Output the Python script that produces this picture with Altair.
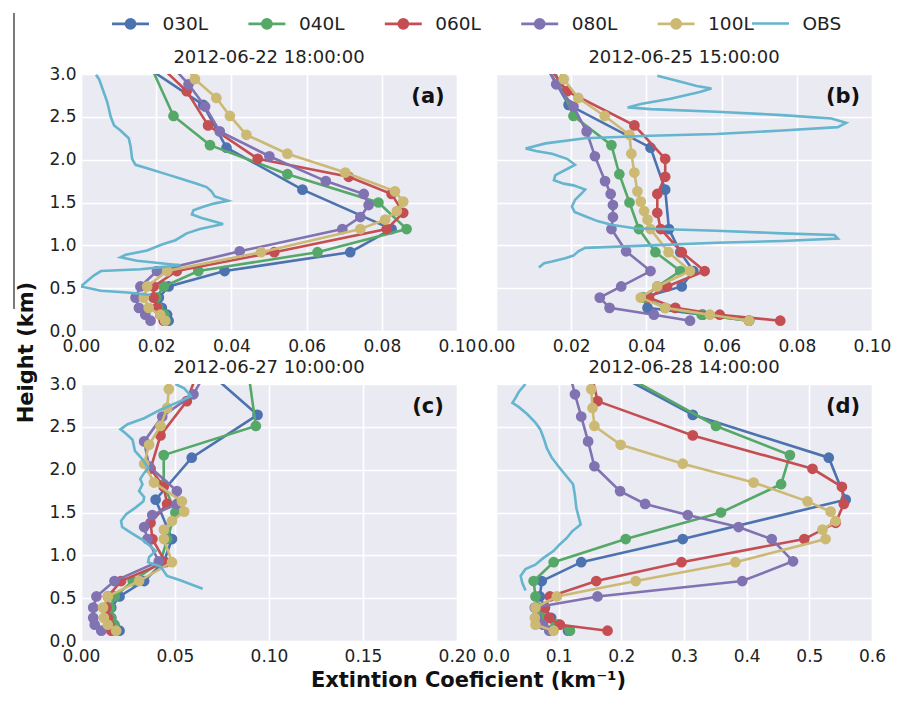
import altair as alt
import pandas as pd

# ---------------- data ----------------
MODELS = ["030L", "040L", "060L", "080L", "100L"]
MODEL_COLORS = ["#4C72B0", "#55A868", "#C44E52", "#8172B2", "#CCB974"]
OBS_NAME = ["OBS"]
OBS_COLOR = ["#64B5CD"]

PANELS = ["a", "b", "c", "d"]
TITLES = ["2012-06-22 18:00:00", "2012-06-25 15:00:00", "2012-06-27 10:00:00", "2012-06-28 14:00:00"]
XMAX = [0.10, 0.10, 0.20, 0.60]
XTICKS_AB = [0.00, 0.02, 0.04, 0.06, 0.08, 0.10]
XTICKS_C = [0.00, 0.05, 0.10, 0.15, 0.20]
XTICKS_D = [0.0, 0.1, 0.2, 0.3, 0.4, 0.5, 0.6]
YTICKS = [0.0, 0.5, 1.0, 1.5, 2.0, 2.5, 3.0]

# model level heights (km)
lev_030L = [0.12, 0.19, 0.27, 0.39, 0.52, 0.70, 0.92, 1.19, 1.65, 2.14, 2.64, 3.20]
lev_040L = [0.12, 0.19, 0.27, 0.39, 0.52, 0.70, 0.92, 1.19, 1.50, 1.83, 2.17, 2.51, 3.30]
lev_060L = [0.12, 0.19, 0.27, 0.39, 0.52, 0.70, 0.92, 1.19, 1.38, 1.60, 1.80, 2.01, 2.40, 2.80, 3.20]
lev_080L = [0.12, 0.19, 0.27, 0.39, 0.52, 0.70, 0.93, 1.19, 1.33, 1.47, 1.60, 1.75, 2.04, 2.33, 2.62, 2.88, 3.20]
lev_100L = [0.12, 0.19, 0.27, 0.39, 0.52, 0.70, 0.92, 1.19, 1.30, 1.40, 1.51, 1.63, 1.85, 2.07, 2.29, 2.51, 2.72, 2.94, 3.20]

# panel (a)
a_030L = [0.0233, 0.0229, 0.0215, 0.0207, 0.0233, 0.0382, 0.0716, 0.0826, 0.0589, 0.0387, 0.0325, 0.0133]
a_040L = [0.0225, 0.0222, 0.0205, 0.0200, 0.0220, 0.0312, 0.0629, 0.0866, 0.0791, 0.0549, 0.0343, 0.0246, 0.0164]
a_060L = [0.0220, 0.0211, 0.0202, 0.0193, 0.0193, 0.0255, 0.0514, 0.0813, 0.0857, 0.0826, 0.0712, 0.0470, 0.0338, 0.0281, 0.0185]
a_080L = [0.0185, 0.0171, 0.0154, 0.0145, 0.0158, 0.0202, 0.0422, 0.0695, 0.0743, 0.0765, 0.0752, 0.0651, 0.0501, 0.0369, 0.0330, 0.0286, 0.0220]
a_100L = [0.0224, 0.0211, 0.0180, 0.0167, 0.0176, 0.0229, 0.0479, 0.0743, 0.0809, 0.0840, 0.0857, 0.0835, 0.0703, 0.0549, 0.0440, 0.0396, 0.0360, 0.0303, 0.0260]
# panel (b)
b_030L = [0.0673, 0.0550, 0.0403, 0.0390, 0.0494, 0.0525, 0.0490, 0.0460, 0.0450, 0.0411, 0.0193, 0.0120]
b_040L = [0.0673, 0.0547, 0.0450, 0.0394, 0.0429, 0.0490, 0.0424, 0.0380, 0.0355, 0.0328, 0.0307, 0.0206, 0.0130]
b_060L = [0.0756, 0.0595, 0.0477, 0.0407, 0.0455, 0.0555, 0.0494, 0.0438, 0.0429, 0.0429, 0.0450, 0.0450, 0.0368, 0.0189, 0.0120]
b_080L = [0.0516, 0.0420, 0.0302, 0.0276, 0.0333, 0.0411, 0.0346, 0.0307, 0.0311, 0.0311, 0.0305, 0.0290, 0.0263, 0.0241, 0.0206, 0.0160, 0.0120]
b_100L = [0.0673, 0.0569, 0.0450, 0.0385, 0.0429, 0.0516, 0.0459, 0.0411, 0.0403, 0.0394, 0.0385, 0.0376, 0.0368, 0.0360, 0.0355, 0.0289, 0.0219, 0.0180, 0.0150]
# panel (c)
c_030L = [0.0205, 0.0178, 0.0161, 0.0161, 0.0205, 0.0336, 0.0440, 0.0484, 0.0397, 0.0589, 0.0939, 0.0647]
c_040L = [0.0187, 0.0175, 0.0160, 0.0155, 0.0180, 0.0275, 0.0423, 0.0458, 0.0502, 0.0440, 0.0440, 0.0930, 0.0880]
c_060L = [0.0161, 0.0150, 0.0143, 0.0135, 0.0143, 0.0213, 0.0449, 0.0380, 0.0370, 0.0458, 0.0440, 0.0370, 0.0423, 0.0563, 0.0630]
c_080L = [0.0108, 0.0073, 0.0065, 0.0065, 0.0082, 0.0178, 0.0414, 0.0353, 0.0336, 0.0379, 0.0510, 0.0510, 0.0362, 0.0336, 0.0432, 0.0598, 0.0680]
c_100L = [0.0187, 0.0143, 0.0122, 0.0117, 0.0143, 0.0309, 0.0484, 0.0441, 0.0441, 0.0484, 0.0549, 0.0537, 0.0388, 0.0336, 0.0362, 0.0423, 0.0458, 0.0467, 0.0480]
# panel (d)
d_030L = [0.115, 0.100, 0.088, 0.078, 0.070, 0.073, 0.136, 0.298, 0.558, 0.531, 0.314, 0.171]
d_040L = [0.118, 0.095, 0.075, 0.068, 0.063, 0.060, 0.092, 0.207, 0.359, 0.455, 0.469, 0.351, 0.156]
d_060L = [0.178, 0.102, 0.085, 0.078, 0.086, 0.160, 0.296, 0.492, 0.542, 0.555, 0.552, 0.505, 0.314, 0.162, 0.150]
d_080L = [0.085, 0.075, 0.065, 0.062, 0.162, 0.393, 0.474, 0.440, 0.387, 0.306, 0.238, 0.198, 0.157, 0.147, 0.136, 0.126, 0.115]
d_100L = [0.092, 0.063, 0.062, 0.063, 0.097, 0.223, 0.382, 0.526, 0.521, 0.542, 0.534, 0.497, 0.411, 0.298, 0.199, 0.157, 0.154, 0.152, 0.150]

# observations (height km, extinction)
obs_a_h = [2.99, 2.94, 2.83, 2.67, 2.50, 2.40, 2.34, 2.25, 2.15, 2.01, 1.94, 1.90, 1.84, 1.78, 1.72, 1.68, 1.63, 1.57, 1.52, 1.49,
           1.45, 1.41, 1.36, 1.32, 1.25, 1.22, 1.19, 1.14, 1.06, 1.01, 0.94, 0.89, 0.86, 0.82, 0.78, 0.77, 0.74, 0.72, 0.70, 0.65,
           0.59, 0.52, 0.47, 0.45, 0.42]
obs_a_v = [0.0040, 0.0048, 0.0057, 0.0070, 0.0079, 0.0088, 0.0105, 0.0127, 0.0132, 0.0136, 0.0145, 0.0176, 0.0220, 0.0264, 0.0308,
           0.0334, 0.0347, 0.0356, 0.0391, 0.0356, 0.0325, 0.0299, 0.0295, 0.0321, 0.0378, 0.0347, 0.0316, 0.0281, 0.0251, 0.0215,
           0.0176, 0.0119, 0.0105, 0.0149, 0.0237, 0.0264, 0.0202, 0.0158, 0.0053, 0.0035, 0.0018, 0.0000, 0.0053, 0.0123, 0.0185]
obs_b_h = [2.98, 2.92, 2.86, 2.83, 2.79, 2.71, 2.65, 2.61, 2.59, 2.56, 2.52, 2.48, 2.43, 2.38, 2.34, 2.30, 2.28, 2.25, 2.19, 2.13,
           2.10, 2.07, 2.01, 1.94, 1.90, 1.82, 1.76, 1.72, 1.70, 1.65, 1.59, 1.53, 1.45, 1.39, 1.34, 1.28, 1.24, 1.20, 1.17, 1.14,
           1.12, 1.08, 1.05, 1.03, 1.00, 0.97, 0.93, 0.88, 0.85, 0.81, 0.79, 0.74]
obs_b_v = [0.0429, 0.0481, 0.0534, 0.0573, 0.0542, 0.0464, 0.0385, 0.0350, 0.0411, 0.0586, 0.0761, 0.0892, 0.0931, 0.0909, 0.0761,
           0.0586, 0.0411, 0.0237, 0.0132, 0.0079, 0.0106, 0.0149, 0.0189, 0.0210, 0.0193, 0.0158, 0.0154, 0.0180, 0.0206, 0.0237,
           0.0224, 0.0210, 0.0202, 0.0209, 0.0237, 0.0272, 0.0307, 0.0368, 0.0586, 0.0761, 0.0900, 0.0909, 0.0761, 0.0586, 0.0411,
           0.0237, 0.0219, 0.0206, 0.0184, 0.0149, 0.0128, 0.0114]
obs_c_h = [3.00, 2.95, 2.86, 2.80, 2.70, 2.60, 2.53, 2.47, 2.42, 2.35, 2.22, 2.12, 2.02, 1.95, 1.89, 1.83, 1.75, 1.68, 1.63, 1.56,
           1.48, 1.40, 1.33, 1.26, 1.17, 1.05, 0.98, 0.92, 0.87, 0.76, 0.71, 0.65, 0.61]
obs_c_v = [0.0502, 0.0549, 0.0584, 0.0528, 0.0423, 0.0336, 0.0248, 0.0210, 0.0240, 0.0274, 0.0287, 0.0327, 0.0357, 0.0332, 0.0315,
           0.0327, 0.0309, 0.0336, 0.0332, 0.0292, 0.0240, 0.0213, 0.0219, 0.0269, 0.0336, 0.0397, 0.0362, 0.0357, 0.0423, 0.0458,
           0.0528, 0.0598, 0.0647]
obs_d_h = [3.00, 2.91, 2.84, 2.78, 2.73, 2.65, 2.55, 2.47, 2.37, 2.25, 2.14, 2.04, 1.90, 1.83, 1.71, 1.55, 1.36, 1.28, 1.20, 1.13,
           1.05, 0.97, 0.89, 0.84, 0.76, 0.68, 0.59]
obs_d_v = [0.047, 0.0366, 0.0314, 0.0262, 0.0366, 0.0497, 0.0628, 0.0707, 0.0759, 0.0812, 0.0890, 0.0995, 0.1152, 0.1230, 0.1257,
           0.1283, 0.1351, 0.1215, 0.1126, 0.1021, 0.0916, 0.0759, 0.0628, 0.0471, 0.0393, 0.0419, 0.0471]

LEVELS = {"030L": lev_030L, "040L": lev_040L, "060L": lev_060L, "080L": lev_080L, "100L": lev_100L}
VALUES = {
    "a": {"030L": a_030L, "040L": a_040L, "060L": a_060L, "080L": a_080L, "100L": a_100L},
    "b": {"030L": b_030L, "040L": b_040L, "060L": b_060L, "080L": b_080L, "100L": b_100L},
    "c": {"030L": c_030L, "040L": c_040L, "060L": c_060L, "080L": c_080L, "100L": c_100L},
    "d": {"030L": d_030L, "040L": d_040L, "060L": d_060L, "080L": d_080L, "100L": d_100L},
}
OBS = {"a": (obs_a_h, obs_a_v), "b": (obs_b_h, obs_b_v), "c": (obs_c_h, obs_c_v), "d": (obs_d_h, obs_d_v)}

rows = []
for p in PANELS:
    for s in MODELS:
        for i, (h, v) in enumerate(zip(LEVELS[s], VALUES[p][s])):
            rows.append({"panel": p, "series": s, "height": h, "value": v, "i": i})
    oh, ov = OBS[p]
    for i, (h, v) in enumerate(zip(oh, ov)):
        rows.append({"panel": p, "series": "OBS", "height": h, "value": v, "i": i})
df = pd.DataFrame(rows)

# ---------------- styling ----------------
FONT = "DejaVu Sans"
W, H = 376, 257
LINE_W = 2.6
MARK_SIZE = 115

# legend swatches: 37 px line (plus a dot for the model runs) inside a 22 px symbol box
SYM_MODEL = "M-1.68,0L1.68,0M-0.42,0A0.42,0.42,0,1,1,0.42,0A0.42,0.42,0,1,1,-0.42,0Z"
SYM_OBS = "M-1.68,0L1.68,0"
legend_common = dict(
    orient="none", legendY=-63, direction="horizontal", title=None,
    symbolSize=484, symbolStrokeWidth=LINE_W, symbolOpacity=1,
    labelFont=FONT, labelFontSize=18.5, labelColor="#222222", labelOffset=19.5, padding=0,
)
model_legend = alt.Legend(legendX=37, columns=5, columnPadding=33.4, symbolType=SYM_MODEL, **legend_common)
obs_legend = alt.Legend(legendX=677, symbolType=SYM_OBS, **legend_common)
color_scale = alt.Scale(domain=MODELS, range=MODEL_COLORS)
obs_scale = alt.Scale(domain=OBS_NAME, range=OBS_COLOR)


def make_panel(k):
    p = PANELS[k]
    d = df[df.panel == p]
    xticks = XTICKS_AB if k < 2 else (XTICKS_C if k == 2 else XTICKS_D)
    xfmt = ".1f" if k == 3 else ".2f"
    xaxis = alt.Axis(
        values=xticks, format=xfmt, labelFlush=False, labelOverlap=False, labelPadding=7,
        title="Extintion Coeficient (km⁻¹)" if k == 2 else None,
        titleX=387, titleY=45, titleBaseline="alphabetic", titleAlign="center",
        titleFont=FONT, titleFontSize=21, titleFontWeight="bold", titleColor="#111111",
    )
    if k in (0, 2):
        yaxis = alt.Axis(
            values=YTICKS, format=".1f",
            title="Height (km)" if k == 0 else None,
            titleX=-49, titleY=278, titleBaseline="alphabetic", titleAlign="center", titleAngle=270,
            titleFont=FONT, titleFontSize=21, titleFontWeight="bold", titleColor="#111111",
        )
    else:
        yaxis = alt.Axis(values=YTICKS, labels=False, title=None)
    x = alt.X("value:Q", scale=alt.Scale(domain=[0, XMAX[k]], nice=False, zero=False), axis=xaxis)
    y = alt.Y("height:Q", scale=alt.Scale(domain=[0, 3], nice=False, zero=False), axis=yaxis)
    color = alt.Color("series:N", scale=color_scale, legend=model_legend)

    layers = []
    for s in MODELS:
        base = alt.Chart().transform_filter(alt.datum.series == s)
        layers.append(base.mark_line(clip=True, strokeWidth=LINE_W).encode(
            x=x, y=y, color=color, order=alt.Order("i:Q")))
        layers.append(base.mark_circle(clip=True, size=MARK_SIZE, opacity=1).encode(
            x=x, y=y, color=color))
    layers.append(alt.Chart().transform_filter(alt.datum.series == "OBS").mark_line(
        clip=True, strokeWidth=LINE_W).encode(
        x=x, y=y, stroke=alt.Stroke("series:N", scale=obs_scale, legend=obs_legend),
        order=alt.Order("i:Q")))
    # panel letter and panel title
    layers.append(alt.Chart(pd.DataFrame({"t": ["(" + p + ")"]})).mark_text(
        font=FONT, fontSize=21, fontWeight="bold", color="#111111", align="center", baseline="middle"
    ).encode(x=alt.value(W - 29), y=alt.value(23), text="t:N"))
    layers.append(alt.Chart(pd.DataFrame({"t": [TITLES[k]]})).mark_text(
        font=FONT, fontSize=18, color="#222222", align="center", baseline="alphabetic"
    ).encode(x=alt.value(W / 2), y=alt.value(-11), text="t:N"))
    if k == 0:
        layers.append(alt.Chart(pd.DataFrame({"t": [0]})).mark_rule(
            color="#222222", strokeWidth=1.2).encode(
            x=alt.value(-67), y=alt.value(-61), y2=alt.value(235)))
    return alt.layer(*layers, data=d).properties(width=W, height=H)


chart = alt.concat(
    *[make_panel(k) for k in range(4)], columns=2, spacing={"row": 53, "column": 39}, bounds="flush"
).properties(
    padding={"left": 5, "top": 3, "right": 0, "bottom": 0}
).configure(font=FONT).configure_view(
    fill="#EAEAF2", stroke=None
).configure_axis(
    labelFont=FONT, labelFontSize=17, labelColor="#222222", labelPadding=5,
    ticks=False, domain=False, grid=True, gridColor="#FFFFFF", gridWidth=1.6,
)

chart.save("out.html", embed_options={"renderer": "svg", "actions": False})
